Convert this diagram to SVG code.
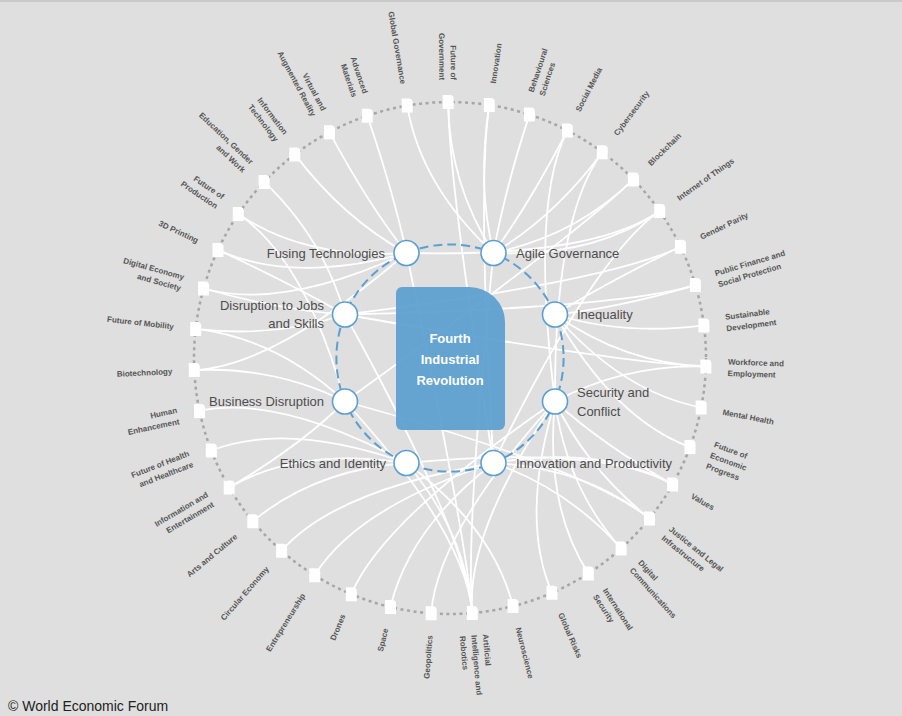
<svg xmlns="http://www.w3.org/2000/svg" width="902" height="716" viewBox="0 0 902 716">
<style>
.lbl{font-family:"Liberation Sans",Arial,sans-serif;font-weight:bold;font-size:8px;fill:#555}
.key{font-family:"Liberation Sans",Arial,sans-serif;font-size:13px;fill:#4d4d4d}
.ctr{font-family:"Liberation Sans",Arial,sans-serif;font-weight:bold;font-size:13px;fill:#fff}
#connectors path{fill:none;stroke:#fff;stroke-width:1.8}
.inode{fill:#fff;stroke:#5b9fd2;stroke-width:1.6}
</style>
<defs>
<path id="sq" d="M-5.5,-7 h7 a4,4 0 0 1 4,4 v10 h-11 z" fill="#fff"/>
</defs>
<rect width="902" height="716" fill="#dfdfdf"/>
<rect width="902" height="2" fill="#c9c9c9"/>
<circle cx="450" cy="358" r="256" fill="none" stroke="#a6a6a6" stroke-width="2.5" stroke-dasharray="3 3.6"/>
<g id="connectors">
<path d="M448.2,102 Q448.8,183 493.5,253"/>
<path d="M448.2,102 Q448.8,183 493.5,463"/>
<path d="M489.3,105 Q476.9,185.1 493.5,253"/>
<path d="M489.3,105 Q476.9,185.1 493.5,463"/>
<path d="M529.4,114.6 Q504.3,191.6 493.5,253"/>
<path d="M567.4,130.5 Q530.2,202.5 493.5,253"/>
<path d="M567.4,130.5 Q530.2,202.5 555,401.5"/>
<path d="M602.3,152.3 Q554.1,217.4 493.5,253"/>
<path d="M602.3,152.3 Q554.1,217.4 555,401.5"/>
<path d="M633.4,179.4 Q575.4,235.9 493.5,253"/>
<path d="M633.4,179.4 Q575.4,235.9 345,401.5"/>
<path d="M659.7,211.1 Q593.3,257.6 493.5,253"/>
<path d="M659.7,211.1 Q593.3,257.6 406.5,253"/>
<path d="M659.7,211.1 Q593.3,257.6 493.5,463"/>
<path d="M680.5,246.7 Q607.6,281.9 555,314.5"/>
<path d="M680.5,246.7 Q607.6,281.9 345,314.5"/>
<path d="M695.4,285.1 Q617.8,308.2 555,314.5"/>
<path d="M695.4,285.1 Q617.8,308.2 345,314.5"/>
<path d="M703.9,325.4 Q623.6,335.7 555,314.5"/>
<path d="M705.9,366.5 Q624.9,363.8 555,314.5"/>
<path d="M705.9,366.5 Q624.9,363.8 555,401.5"/>
<path d="M705.9,366.5 Q624.9,363.8 345,314.5"/>
<path d="M701.2,407.5 Q621.7,391.8 555,314.5"/>
<path d="M690,447.1 Q614.1,418.9 555,314.5"/>
<path d="M672.6,484.4 Q602.2,444.4 555,401.5"/>
<path d="M672.6,484.4 Q602.2,444.4 493.5,463"/>
<path d="M672.6,484.4 Q602.2,444.4 406.5,463"/>
<path d="M649.5,518.5 Q586.4,467.7 555,401.5"/>
<path d="M649.5,518.5 Q586.4,467.7 493.5,463"/>
<path d="M649.5,518.5 Q586.4,467.7 345,401.5"/>
<path d="M621.1,548.4 Q567,488.2 555,401.5"/>
<path d="M621.1,548.4 Q567,488.2 493.5,463"/>
<path d="M588.3,573.4 Q544.6,505.2 555,401.5"/>
<path d="M552,592.8 Q519.7,518.5 555,401.5"/>
<path d="M513,606.1 Q493.1,527.6 406.5,463"/>
<path d="M472.3,613 Q465.3,532.3 406.5,253"/>
<path d="M472.3,613 Q465.3,532.3 493.5,253"/>
<path d="M472.3,613 Q465.3,532.3 555,401.5"/>
<path d="M472.3,613 Q465.3,532.3 406.5,463"/>
<path d="M472.3,613 Q465.3,532.3 345,401.5"/>
<path d="M472.3,613 Q465.3,532.3 345,314.5"/>
<path d="M431.2,613.3 Q437.1,532.5 555,401.5"/>
<path d="M390.5,607 Q409.3,528.2 493.5,463"/>
<path d="M351.3,594.2 Q382.5,519.5 555,401.5"/>
<path d="M314.7,575.3 Q357.5,506.6 493.5,463"/>
<path d="M281.6,550.8 Q334.9,489.8 493.5,463"/>
<path d="M252.8,521.3 Q315.2,469.6 406.5,463"/>
<path d="M229.2,487.5 Q299.1,446.6 406.5,463"/>
<path d="M229.2,487.5 Q299.1,446.6 345,401.5"/>
<path d="M211.3,450.5 Q286.8,421.2 406.5,463"/>
<path d="M199.5,411 Q278.8,394.2 406.5,463"/>
<path d="M194.3,370.1 Q275.2,366.3 406.5,253"/>
<path d="M194.3,370.1 Q275.2,366.3 345,401.5"/>
<path d="M195.7,328.9 Q276.1,338.1 345,314.5"/>
<path d="M195.7,328.9 Q276.1,338.1 345,401.5"/>
<path d="M203.6,288.5 Q281.6,310.5 406.5,253"/>
<path d="M203.6,288.5 Q281.6,310.5 345,314.5"/>
<path d="M218,249.9 Q291.4,284.1 406.5,253"/>
<path d="M218,249.9 Q291.4,284.1 345,314.5"/>
<path d="M238.3,214 Q305.3,259.6 406.5,253"/>
<path d="M238.3,214 Q305.3,259.6 345,401.5"/>
<path d="M264.1,181.9 Q322.9,237.7 345,314.5"/>
<path d="M294.8,154.4 Q343.9,218.8 406.5,253"/>
<path d="M329.5,132.2 Q367.6,203.6 406.5,253"/>
<path d="M367.3,115.7 Q393.4,192.4 406.5,253"/>
<path d="M407.2,105.6 Q420.7,185.5 493.5,253"/>
</g>
<circle cx="450" cy="358" r="113.6" fill="none" stroke="#5b9fd2" stroke-width="2" stroke-dasharray="9 5"/>
<g id="center">
<path d="M402,287 H469 A36,35 0 0 1 505,322 V424 A6,6 0 0 1 499,430 H402 A6,6 0 0 1 396,424 V293 A6,6 0 0 1 402,287 Z" fill="#5b9ecf" fill-opacity="0.93"/>
<text class="ctr" text-anchor="middle"><tspan x="450" y="342.5">Fourth</tspan><tspan x="450" y="363.5">Industrial</tspan><tspan x="450" y="384.5">Revolution</tspan></text>
</g>
<g id="k-fusing"><circle class="inode" cx="406.5" cy="253" r="12.5"/><text class="key" x="385" y="257.5" text-anchor="end">Fusing Technologies</text></g>
<g id="k-agile"><circle class="inode" cx="493.5" cy="253" r="12.5"/><text class="key" x="516" y="257.5">Agile Governance</text></g>
<g id="k-inequality"><circle class="inode" cx="555" cy="314.5" r="12.5"/><text class="key" x="577" y="319">Inequality</text></g>
<g id="k-security"><circle class="inode" cx="555" cy="401.5" r="12.5"/><text class="key"><tspan x="577" y="397">Security and</tspan><tspan x="577" y="415.5">Conflict</tspan></text></g>
<g id="k-innovation"><circle class="inode" cx="493.5" cy="463" r="12.5"/><text class="key" x="516" y="467.5">Innovation and Productivity</text></g>
<g id="k-ethics"><circle class="inode" cx="406.5" cy="463" r="12.5"/><text class="key" x="386" y="467.5" text-anchor="end">Ethics and Identity</text></g>
<g id="k-business"><circle class="inode" cx="345" cy="401.5" r="12.5"/><text class="key" x="324" y="406" text-anchor="end">Business Disruption</text></g>
<g id="k-jobs"><circle class="inode" cx="345" cy="314.5" r="12.5"/><text class="key" text-anchor="end"><tspan x="324" y="310">Disruption to Jobs</tspan><tspan x="324" y="328">and Skills</tspan></text></g>
<g id="t0"><use href="#sq" x="448.2" y="102"/><text class="lbl" transform="translate(450 358) rotate(89.6)" text-anchor="end"><tspan x="-278" y="-2.75">Future of</tspan><tspan x="-278" y="8.75">Government</tspan></text></g>
<g id="t1"><use href="#sq" x="489.3" y="105"/><text class="lbl" transform="translate(450 358) rotate(-81.17)" x="278" y="3">Innovation</text></g>
<g id="t2"><use href="#sq" x="529.4" y="114.6"/><text class="lbl" transform="translate(450 358) rotate(-71.94)"><tspan x="278" y="-2.75">Behavioural</tspan><tspan x="278" y="8.75">Sciences</tspan></text></g>
<g id="t3"><use href="#sq" x="567.4" y="130.5"/><text class="lbl" transform="translate(450 358) rotate(-62.71)" x="278" y="3">Social Media</text></g>
<g id="t4"><use href="#sq" x="602.3" y="152.3"/><text class="lbl" transform="translate(450 358) rotate(-53.48)" x="278" y="3">Cybersecurity</text></g>
<g id="t5"><use href="#sq" x="633.4" y="179.4"/><text class="lbl" transform="translate(450 358) rotate(-44.25)" x="278" y="3">Blockchain</text></g>
<g id="t6"><use href="#sq" x="659.7" y="211.1"/><text class="lbl" transform="translate(450 358) rotate(-35.02)" x="278" y="3">Internet of Things</text></g>
<g id="t7"><use href="#sq" x="680.5" y="246.7"/><text class="lbl" transform="translate(450 358) rotate(-25.78)" x="278" y="3">Gender Parity</text></g>
<g id="t8"><use href="#sq" x="695.4" y="285.1"/><text class="lbl" transform="translate(450 358) rotate(-16.55)"><tspan x="278" y="-2.75">Public Finance and</tspan><tspan x="278" y="8.75">Social Protection</tspan></text></g>
<g id="t9"><use href="#sq" x="703.9" y="325.4"/><text class="lbl" transform="translate(450 358) rotate(-7.32)"><tspan x="278" y="-2.75">Sustainable</tspan><tspan x="278" y="8.75">Development</tspan></text></g>
<g id="t10"><use href="#sq" x="705.9" y="366.5"/><text class="lbl" transform="translate(450 358) rotate(1.91)"><tspan x="278" y="-2.75">Workforce and</tspan><tspan x="278" y="8.75">Employment</tspan></text></g>
<g id="t11"><use href="#sq" x="701.2" y="407.5"/><text class="lbl" transform="translate(450 358) rotate(11.14)" x="278" y="3">Mental Health</text></g>
<g id="t12"><use href="#sq" x="690" y="447.1"/><text class="lbl" transform="translate(450 358) rotate(20.37)"><tspan x="278" y="-8.5">Future of</tspan><tspan x="278" y="3">Economic</tspan><tspan x="278" y="14.5">Progress</tspan></text></g>
<g id="t13"><use href="#sq" x="672.6" y="484.4"/><text class="lbl" transform="translate(450 358) rotate(29.6)" x="278" y="3">Values</text></g>
<g id="t14"><use href="#sq" x="649.5" y="518.5"/><text class="lbl" transform="translate(450 358) rotate(38.83)"><tspan x="278" y="-2.75">Justice and Legal</tspan><tspan x="278" y="8.75">Infrastructure</tspan></text></g>
<g id="t15"><use href="#sq" x="621.1" y="548.4"/><text class="lbl" transform="translate(450 358) rotate(48.06)"><tspan x="278" y="-2.75">Digital</tspan><tspan x="278" y="8.75">Communications</tspan></text></g>
<g id="t16"><use href="#sq" x="588.3" y="573.4"/><text class="lbl" transform="translate(450 358) rotate(57.29)"><tspan x="278" y="-2.75">International</tspan><tspan x="278" y="8.75">Security</tspan></text></g>
<g id="t17"><use href="#sq" x="552" y="592.8"/><text class="lbl" transform="translate(450 358) rotate(66.52)" x="278" y="3">Global Risks</text></g>
<g id="t18"><use href="#sq" x="513" y="606.1"/><text class="lbl" transform="translate(450 358) rotate(75.75)" x="278" y="3">Neuroscience</text></g>
<g id="t19"><use href="#sq" x="472.3" y="613"/><text class="lbl" transform="translate(450 358) rotate(84.99)"><tspan x="278" y="-8.5">Artificial</tspan><tspan x="278" y="3">Intelligence and</tspan><tspan x="278" y="14.5">Robotics</tspan></text></g>
<g id="t20"><use href="#sq" x="431.2" y="613.3"/><text class="lbl" transform="translate(450 358) rotate(-85.78)" x="-278" y="3" text-anchor="end">Geopolitics</text></g>
<g id="t21"><use href="#sq" x="390.5" y="607"/><text class="lbl" transform="translate(450 358) rotate(-76.55)" x="-278" y="3" text-anchor="end">Space</text></g>
<g id="t22"><use href="#sq" x="351.3" y="594.2"/><text class="lbl" transform="translate(450 358) rotate(-67.32)" x="-278" y="3" text-anchor="end">Drones</text></g>
<g id="t23"><use href="#sq" x="314.7" y="575.3"/><text class="lbl" transform="translate(450 358) rotate(-58.09)" x="-278" y="3" text-anchor="end">Entrepreneurship</text></g>
<g id="t24"><use href="#sq" x="281.6" y="550.8"/><text class="lbl" transform="translate(450 358) rotate(-48.86)" x="-278" y="3" text-anchor="end">Circular Economy</text></g>
<g id="t25"><use href="#sq" x="252.8" y="521.3"/><text class="lbl" transform="translate(450 358) rotate(-39.63)" x="-278" y="3" text-anchor="end">Arts and Culture</text></g>
<g id="t26"><use href="#sq" x="229.2" y="487.5"/><text class="lbl" transform="translate(450 358) rotate(-30.4)" text-anchor="end"><tspan x="-278" y="-2.75">Information and</tspan><tspan x="-278" y="8.75">Entertainment</tspan></text></g>
<g id="t27"><use href="#sq" x="211.3" y="450.5"/><text class="lbl" transform="translate(450 358) rotate(-21.17)" text-anchor="end"><tspan x="-278" y="-2.75">Future of Health</tspan><tspan x="-278" y="8.75">and Healthcare</tspan></text></g>
<g id="t28"><use href="#sq" x="199.5" y="411"/><text class="lbl" transform="translate(450 358) rotate(-11.94)" text-anchor="end"><tspan x="-278" y="-2.75">Human</tspan><tspan x="-278" y="8.75">Enhancement</tspan></text></g>
<g id="t29"><use href="#sq" x="194.3" y="370.1"/><text class="lbl" transform="translate(450 358) rotate(-2.71)" x="-278" y="3" text-anchor="end">Biotechnology</text></g>
<g id="t30"><use href="#sq" x="195.7" y="328.9"/><text class="lbl" transform="translate(450 358) rotate(6.52)" x="-278" y="3" text-anchor="end">Future of Mobility</text></g>
<g id="t31"><use href="#sq" x="203.6" y="288.5"/><text class="lbl" transform="translate(450 358) rotate(15.75)" text-anchor="end"><tspan x="-278" y="-2.75">Digital Economy</tspan><tspan x="-278" y="8.75">and Society</tspan></text></g>
<g id="t32"><use href="#sq" x="218" y="249.9"/><text class="lbl" transform="translate(450 358) rotate(24.99)" x="-278" y="3" text-anchor="end">3D Printing</text></g>
<g id="t33"><use href="#sq" x="238.3" y="214"/><text class="lbl" transform="translate(450 358) rotate(34.22)" text-anchor="end"><tspan x="-278" y="-2.75">Future of</tspan><tspan x="-278" y="8.75">Production</tspan></text></g>
<g id="t34"><use href="#sq" x="264.1" y="181.9"/><text class="lbl" transform="translate(450 358) rotate(43.45)" text-anchor="end"><tspan x="-278" y="-2.75">Education, Gender</tspan><tspan x="-278" y="8.75">and Work</tspan></text></g>
<g id="t35"><use href="#sq" x="294.8" y="154.4"/><text class="lbl" transform="translate(450 358) rotate(52.68)" text-anchor="end"><tspan x="-278" y="-2.75">Information</tspan><tspan x="-278" y="8.75">Technology</tspan></text></g>
<g id="t36"><use href="#sq" x="329.5" y="132.2"/><text class="lbl" transform="translate(450 358) rotate(61.91)" text-anchor="end"><tspan x="-278" y="-2.75">Virtual and</tspan><tspan x="-278" y="8.75">Augmented Reality</tspan></text></g>
<g id="t37"><use href="#sq" x="367.3" y="115.7"/><text class="lbl" transform="translate(450 358) rotate(71.14)" text-anchor="end"><tspan x="-278" y="-2.75">Advanced</tspan><tspan x="-278" y="8.75">Materials</tspan></text></g>
<g id="t38"><use href="#sq" x="407.2" y="105.6"/><text class="lbl" transform="translate(450 358) rotate(80.37)" x="-278" y="3" text-anchor="end">Global Governance</text></g>
<text x="8" y="711" font-family="Liberation Sans, Arial, sans-serif" font-size="14" fill="#222">© World Economic Forum</text>
</svg>
